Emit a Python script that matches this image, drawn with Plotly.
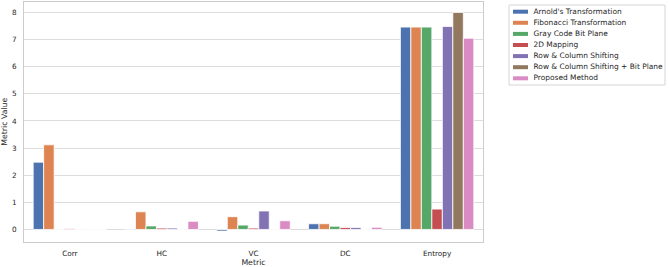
import plotly.graph_objects as go

metrics = ["Corr", "HC", "VC", "DC", "Entropy"]
methods = [
    "Arnold's Transformation",
    "Fibonacci Transformation",
    "Gray Code Bit Plane",
    "2D Mapping",
    "Row & Column Shifting",
    "Row & Column Shifting + Bit Plane",
    "Proposed Method",
]
arnold = [2.48, 0.02, -0.06, 0.21, 7.46]
fibonacci = [3.12, 0.65, 0.47, 0.21, 7.46]
gray_code = [0.01, 0.13, 0.16, 0.12, 7.46]
mapping_2d = [0.03, 0.05, 0.05, 0.07, 0.75]
row_col = [0.005, 0.05, 0.68, 0.07, 7.48]
row_col_bp = [0.005, 0.005, 0.005, 0.005, 8.0]
proposed = [0.01, 0.30, 0.32, 0.08, 7.05]

series = [arnold, fibonacci, gray_code, mapping_2d, row_col, row_col_bp, proposed]
colors = ["#4c72b0", "#dd8452", "#55a868", "#c44e52", "#8172b3", "#937860", "#da8bc3"]

W, H = 669, 267
X0, X1, Y0, Y1 = 24, 483, 1.5, 242  # main plot area, pixels
LX0, LX1, LY0, LY1 = 509, 665, 5, 85  # legend box, pixels
AX0, AX1, AY0, AY1 = 500, 669, 0, 95  # auxiliary legend axes area, pixels
ROW0, ROWSTEP = 11.7, 11.1

fig = go.Figure()
for name, vals, col in zip(methods, series, colors):
    fig.add_trace(go.Bar(
        x=metrics, y=vals, name=name, showlegend=False,
        marker=dict(color=col, line=dict(color="white", width=0.8)),
        xaxis="x", yaxis="y",
    ))

# legend drawn on an auxiliary pixel-space axis pair
rows = [ROW0 + i * ROWSTEP for i in range(len(methods))]
fig.add_trace(go.Scatter(
    x=[533.5] * len(methods), y=rows, text=methods, mode="text",
    textposition="middle right", textfont=dict(size=7.45, color="#262626"),
    cliponaxis=False, showlegend=False, hoverinfo="skip",
    xaxis="x2", yaxis="y2",
))
shapes = [dict(type="rect", xref="x2", yref="y2", x0=LX0, x1=LX1, y0=LY0, y1=LY1,
               line=dict(color="#d6d6d6", width=1), fillcolor="rgba(0,0,0,0)",
               layer="above")]
for yc, col in zip(rows, colors):
    shapes.append(dict(type="rect", xref="x2", yref="y2", x0=513, x1=528,
                       y0=yc - 2.0, y1=yc + 2.0, line=dict(width=0),
                       fillcolor=col, layer="above"))

fig.update_layout(
    width=W, height=H,
    margin=dict(l=0, r=0, t=0, b=0, autoexpand=False),
    barmode="group", bargap=0.2, bargroupgap=0,
    plot_bgcolor="white", paper_bgcolor="white",
    font=dict(family="DejaVu Sans", size=7.3, color="#262626"),
    xaxis=dict(
        domain=[X0 / W, X1 / W],
        range=[-0.5, 4.5], showgrid=False, showline=True, mirror=True,
        linecolor="#cccccc", linewidth=1, ticks="", tickfont=dict(size=7.3),
        ticklabelstandoff=4, automargin=False,
        title=dict(text="Metric", font=dict(size=7.8), standoff=1),
    ),
    yaxis=dict(
        domain=[1 - Y1 / H, 1 - Y0 / H],
        range=[-0.463, 8.403], tickvals=[0, 1, 2, 3, 4, 5, 6, 7, 8],
        showgrid=True, gridcolor="#dddddd", gridwidth=1, zeroline=False,
        showline=True, mirror=True, linecolor="#cccccc", linewidth=1,
        ticks="", tickfont=dict(size=7.3), ticklabelstandoff=5, automargin=False,
        title=dict(text="Metric Value", font=dict(size=7.8), standoff=3),
    ),
    xaxis2=dict(domain=[AX0 / W, AX1 / W], range=[AX0, AX1], visible=False,
                anchor="y2", fixedrange=True),
    yaxis2=dict(domain=[1 - AY1 / H, 1 - AY0 / H], range=[AY1, AY0], visible=False,
                anchor="x2", fixedrange=True),
    shapes=shapes,
    showlegend=False,
)

fig.write_html("out.html")
